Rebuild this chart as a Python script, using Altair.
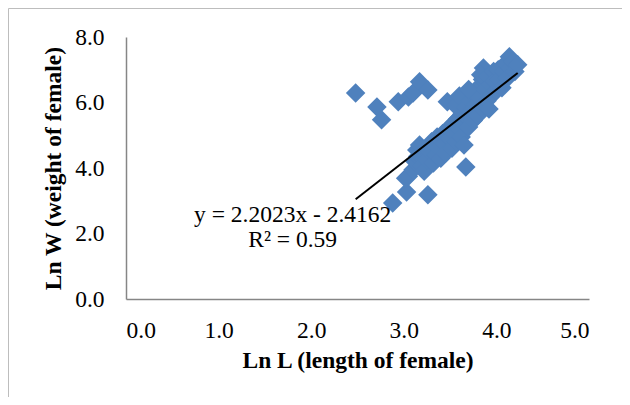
import altair as alt
import pandas as pd

# Ln L (x) and Ln W (y) values
ln_l = [
    2.48, 2.71, 2.76, 2.94, 3.05, 3.10, 3.17, 3.26, 3.47, 3.67, 3.26, 2.88, 3.03, 3.02, 3.14,
    3.05, 3.10, 3.12, 3.15, 3.18, 3.20, 3.22, 3.25, 3.17,
    3.28, 3.30, 3.32, 3.35, 3.36, 3.38, 3.40, 3.42, 3.44, 3.45,
    3.48, 3.50, 3.52, 3.53, 3.55, 3.57, 3.58, 3.60, 3.62, 3.63, 3.65, 3.64, 3.56, 3.60,
    3.67, 3.68, 3.70, 3.72, 3.73, 3.75, 3.76, 3.78, 3.80, 3.80, 3.82, 3.84, 3.85, 3.86, 3.83, 3.70,
    3.88, 3.90, 3.91, 3.92, 3.94, 3.95, 3.97, 3.98, 4.00, 4.02, 4.03,
    4.06, 4.08, 4.10, 4.12, 4.14, 4.15, 4.18, 4.20, 4.23,
]
ln_w = [
    6.29, 5.86, 5.47, 6.02, 6.17, 6.29, 6.63, 6.38, 6.02, 4.03, 3.18, 2.93, 3.27, 3.69, 4.55,
    3.75, 3.95, 4.20, 4.35, 4.35, 4.05, 3.90, 4.25, 4.70,
    4.50, 4.80, 4.15, 4.40, 4.95, 4.60, 4.30, 5.05, 4.75, 4.45,
    5.20, 4.90, 4.60, 5.35, 5.05, 4.80, 5.50, 5.20, 4.95, 5.65, 4.70, 5.40, 5.90, 6.20,
    5.85, 5.55, 5.25, 6.05, 5.75, 5.45, 6.25, 5.95, 5.60, 6.45, 6.15, 5.85, 6.70, 7.05, 6.85, 6.40,
    6.40, 6.05, 6.80, 5.80, 6.55, 6.25, 6.95, 6.65, 6.35, 7.00, 6.70,
    6.45, 6.95, 7.20, 6.75, 7.40, 7.05, 7.25, 6.95, 7.15,
]

# trendline as labelled in the picture
slope = 2.2023
intercept = -2.4162
trend_x = [2.48, 4.23]

x_ticks = [0, 1, 2, 3, 4, 5]
y_ticks = [0, 2, 4, 6, 8]

eq_label = ["y = 2.2023x - 2.4162", "R² = 0.59"]
eq_x = [1.80, 1.80]
eq_y = [2.56, 1.80]

df = pd.DataFrame({"L": ln_l, "W": ln_w})
trend = pd.DataFrame({"L": trend_x})
labels = pd.DataFrame({"t": eq_label, "x": eq_x, "y": eq_y})

FONT = "Liberation Serif"
FS = 23.5
W, H = 463, 262

xs = alt.Scale(domain=[0, 5], nice=False)
ys = alt.Scale(domain=[0, 8], nice=False)

x_axis = alt.Axis(values=x_ticks, format=".1f", title="Ln L (length of female)",
                  labelPadding=19, titleBaseline="alphabetic", titleY=68)
y_axis = alt.Axis(values=y_ticks, format=".1f", title="Ln W (weight of female)",
                  labelPadding=22, titleBaseline="alphabetic", titleX=-66, titleY=131)

points = alt.Chart(df).mark_point(
    shape="diamond", filled=True, size=380, color="#4F81BD", opacity=1
).encode(
    x=alt.X("L:Q", scale=xs, axis=x_axis),
    y=alt.Y("W:Q", scale=ys, axis=y_axis),
)

line = alt.Chart(trend).transform_calculate(
    W=f"{slope}*datum.L + ({intercept})"
).mark_line(color="black", strokeWidth=2).encode(
    x=alt.X("L:Q", scale=xs),
    y=alt.Y("W:Q", scale=ys),
)

text = alt.Chart(labels).mark_text(
    font=FONT, fontSize=FS, color="black", align="center", baseline="middle"
).encode(
    x=alt.X("x:Q", scale=xs),
    y=alt.Y("y:Q", scale=ys),
    text="t:N",
)

one = alt.Data(values=[{}])
border_left = alt.Chart(one).mark_rule(color="#bdbdbd", strokeWidth=1).encode(
    x=alt.value(-117.5), y=alt.value(-28.5), y2=alt.value(400)
)
border_top = alt.Chart(one).mark_rule(color="#bdbdbd", strokeWidth=1).encode(
    x=alt.value(-117.5), x2=alt.value(600), y=alt.value(-28.5)
)

chart = alt.layer(border_left, border_top, points, line, text).properties(
    width=W, height=H,
    autosize=alt.AutoSizeParams(type="none"),
    padding={"left": 118, "top": 29, "right": 33, "bottom": 98},
).configure_view(stroke=None).configure_axis(
    grid=False, ticks=False, domainColor="#868686", domainWidth=1.5,
    labelFont=FONT, labelFontSize=FS, labelColor="black",
    titleFont=FONT, titleFontSize=FS, titleFontWeight="bold", titleColor="black",
)

chart.save("out.html", embed_options={"renderer": "svg", "actions": False})
